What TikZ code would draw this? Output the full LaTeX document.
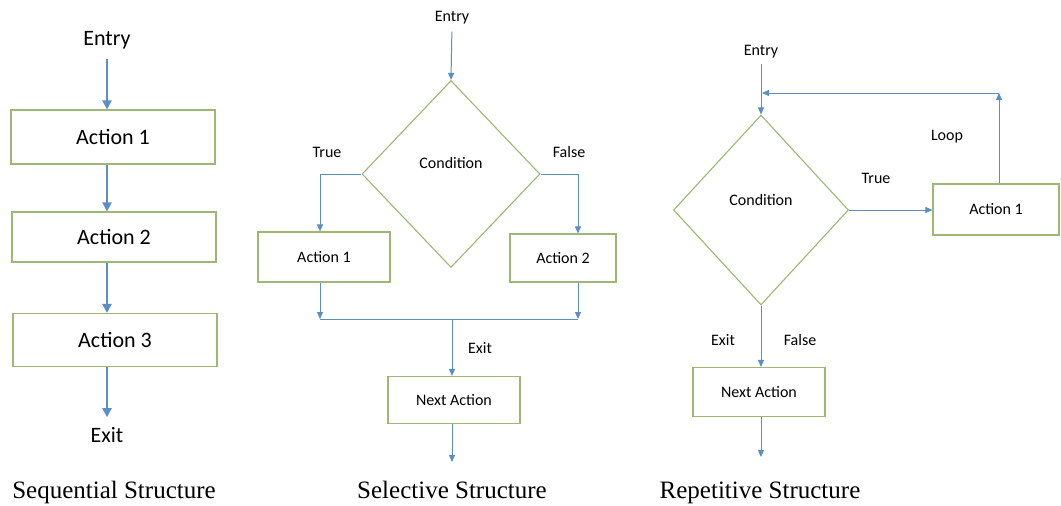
\documentclass[tikz,border=0pt]{standalone}
\usepackage{fontspec}
\setmainfont{Liberation Serif}
\setsansfont{Carlito}
\usetikzlibrary{shapes.geometric,arrows.meta}
\definecolor{boxgreen}{HTML}{9DB873}
\definecolor{arrblue}{HTML}{5B8DC8}
\tikzset{
  box/.style={draw=boxgreen,line width=1.1pt,rectangle,inner sep=0pt,font=\sffamily\fontsize{16}{18}\selectfont},
  bigbox/.style={box,font=\sffamily\fontsize{22}{24}\selectfont},
  cond/.style={draw=boxgreen,line width=1.1pt,diamond,inner sep=0pt},
  lbl/.style={font=\sffamily\fontsize{16}{18}\selectfont,inner sep=0pt},
  biglbl/.style={font=\sffamily\fontsize{22}{24}\selectfont,inner sep=0pt},
  captxt/.style={font=\fontsize{25}{28}\selectfont,inner sep=0pt,anchor=base},
  arr/.style={draw=arrblue,line width=1pt,-{Triangle[length=7pt,width=6pt]}},
  ln/.style={draw=arrblue,line width=1pt},
  bigarr/.style={draw=arrblue,line width=2pt,-{Triangle[length=9pt,width=9pt]}},
}
\begin{document}
\begin{tikzpicture}[x=1pt,y=-1pt]
\fill[white] (0,0) rectangle (1061,506);
\useasboundingbox (0,0) rectangle (1061,506);

% ---------- Sequential ----------
\node[biglbl] (entryS) at (107,40) {Entry};
\node[bigbox,minimum width=204pt,minimum height=54pt] (a1) at (113,137) {Action 1};
\node[bigbox,minimum width=204pt,minimum height=50pt] (a2) at (114,237) {Action 2};
\node[bigbox,minimum width=204pt,minimum height=53pt] (a3) at (115,340) {Action 3};
\node[biglbl] (exitS) at (107,435) {Exit};
\draw[bigarr] (entryS.south) ++(0,10) -- (entryS.south |- a1.north);
\draw[bigarr] (entryS.south |- a1.south) -- (entryS.south |- a2.north);
\draw[bigarr] (entryS.south |- a2.south) -- (entryS.south |- a3.north);
\draw[bigarr,shorten >=10pt] (exitS.north |- a3.south) -- (exitS.north);
\node[captxt] (capS) at (114,498) {Sequential Structure};

% ---------- Selective ----------
\node[lbl] (entryC) at (452,18) {Entry};
\node[cond,minimum width=178pt,minimum height=187pt,label={[lbl,yshift=11pt]center:Condition}] (c1) at (451,174) {};
\node[lbl] (trueC) at (327,152) {True};
\node[lbl] (falseC) at (569,152) {False};
\node[box,minimum width=132pt,minimum height=50pt] (s1) at (324,257) {Action 1};
\node[box,minimum width=106pt,minimum height=48pt] (s2) at (563,258) {Action 2};
\coordinate (mL) at (320,319);
\coordinate (mR) at (578,319);
\coordinate (mS) at (452,319);
\node[box,minimum width=132pt,minimum height=47pt] (nS) at (454,400) {Next Action};
\node[lbl] (exitC) at (480,348) {Exit};
\coordinate (oS) at (452,462);
\draw[arr,shorten <=7pt] (entryC.south) -- (c1.north);
\draw[arr] (c1.west) -| (mL |- s1.north);
\draw[arr] (c1.east) -| (mR |- s2.north);
\draw[arr] (mL |- s1.south) -- (mL);
\draw[arr] (mR |- s2.south) -- (mR);
\draw[ln] (mL) -- (mR);
\draw[arr] (mS) -- (mS |- nS.north);
\draw[arr] (mS |- nS.south) -- (oS);
\node[captxt] (capC) at (452,498) {Selective Structure};

% ---------- Repetitive ----------
\node[lbl] (entryR) at (761,52) {Entry};
\node[cond,minimum width=175pt,minimum height=190pt,label={[lbl,yshift=10pt]center:Condition}] (c2) at (761,210) {};
\node[box,minimum width=126pt,minimum height=51pt] (r1) at (996,209.5) {Action 1};
\node[lbl] (trueR) at (876,178) {True};
\node[lbl] (loopR) at (947,137) {Loop};
\coordinate (lj) at (761,93);
\coordinate (lc) at (999,93);
\node[box,minimum width=132pt,minimum height=49pt] (nR) at (759,392) {Next Action};
\node[lbl] (exitR) at (723,340) {Exit};
\node[lbl] (falseR) at (800,340) {False};
\coordinate (oR) at (761,457);
\draw[arr,shorten <=5pt] (entryR.south) -- (c2.north);
\draw[arr] (c2.east) -- (c2.east -| r1.west);
\draw[arr] (lc |- r1.north) -- (lc);
\draw[arr,shorten >=1pt] (lc) -- (lj);
\draw[arr] (c2.south) -- (c2.south |- nR.north);
\draw[arr] (c2.south |- nR.south) -- (oR);
\node[captxt] (capR) at (760,498) {Repetitive Structure};
\end{tikzpicture}
\end{document}
